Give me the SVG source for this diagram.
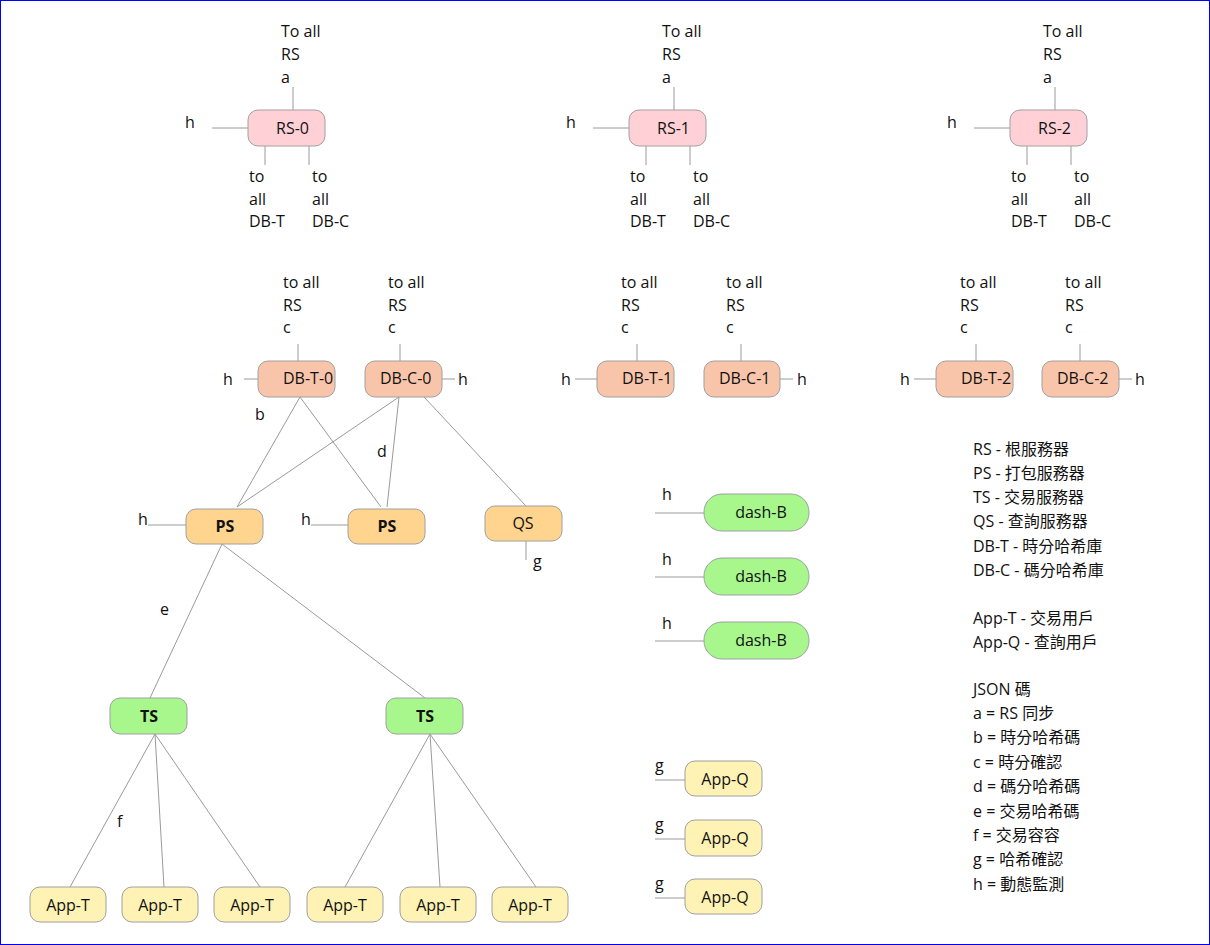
<svg xmlns="http://www.w3.org/2000/svg" width="1210" height="945" viewBox="0 0 1210 945">
<style>
text{font-family:"Open Sans","Noto Sans CJK TC",sans-serif;font-size:16px;fill:#111}
.c{text-anchor:middle}
.b{font-weight:bold}
.ln{stroke:#9a9a9a;stroke-width:1;fill:none}
.rs{fill:#ffd1d6;stroke:#a0a0a0}
.db{fill:#f9c5aa;stroke:#a0a0a0}
.ps{fill:#ffd48f;stroke:#a0a0a0}
.ts{fill:#a8f78d;stroke:#a0a0a0}
.ap{fill:#fff2b5;stroke:#a0a0a0}
</style>
<rect x="0" y="0" width="1210" height="945" fill="#fff"/>
<rect x="0.5" y="0.5" width="1209" height="944" fill="none" stroke="#0000ff"/>
<g id="connectors">
<path class="ln" d="M293 87V110M212 128H248M265 146V165M309 146V165"/>
<path class="ln" d="M674 87V110M593 128H629M646 146V165M690 146V165"/>
<path class="ln" d="M1055 87V110M974 128H1010M1027 146V165M1071 146V165"/>
<path class="ln" d="M298 344V361M244 379H258M400 344V361M442 379H455"/>
<path class="ln" d="M637 344V361M575 379H597M741 344V361M780 379H793"/>
<path class="ln" d="M976 344V361M914 379H936M1080 344V361M1119 379H1132"/>
<path class="ln" d="M300 397L237 507M300 397L381 507M399 397L237 507M399 397L387 507M424 397L526 506"/>
<path class="ln" d="M148 525H186M311 525H348M526 541V560"/>
<path class="ln" d="M222 544L150 698M222 544L425 698"/>
<path class="ln" d="M155 734L70 887M155 734L164 887M155 734L260 887"/>
<path class="ln" d="M430 734L345 887M430 734L440 887M430 734L536 887"/>
<path class="ln" d="M655 513H704M655 577H704M655 641H704"/>
<path class="ln" d="M655 780H685M655 839H685M655 898H685"/>
</g>
<g id="labels">
<text x="281" y="37">To all</text><text x="281" y="60">RS</text><text x="281" y="83">a</text>
<text x="185" y="128">h</text>
<text x="249" y="182">to</text><text x="249" y="205">all</text><text x="249" y="227">DB-T</text>
<text x="312" y="182">to</text><text x="312" y="205">all</text><text x="312" y="227">DB-C</text>
<text x="662" y="37">To all</text><text x="662" y="60">RS</text><text x="662" y="83">a</text>
<text x="566" y="128">h</text>
<text x="630" y="182">to</text><text x="630" y="205">all</text><text x="630" y="227">DB-T</text>
<text x="693" y="182">to</text><text x="693" y="205">all</text><text x="693" y="227">DB-C</text>
<text x="1043" y="37">To all</text><text x="1043" y="60">RS</text><text x="1043" y="83">a</text>
<text x="947" y="128">h</text>
<text x="1011" y="182">to</text><text x="1011" y="205">all</text><text x="1011" y="227">DB-T</text>
<text x="1074" y="182">to</text><text x="1074" y="205">all</text><text x="1074" y="227">DB-C</text>
<text x="283" y="288">to all</text><text x="283" y="311">RS</text><text x="283" y="333">c</text>
<text x="388" y="288">to all</text><text x="388" y="311">RS</text><text x="388" y="333">c</text>
<text x="223" y="385">h</text><text x="458" y="385">h</text>
<text x="621" y="288">to all</text><text x="621" y="311">RS</text><text x="621" y="333">c</text>
<text x="726" y="288">to all</text><text x="726" y="311">RS</text><text x="726" y="333">c</text>
<text x="561" y="385">h</text><text x="797" y="385">h</text>
<text x="960" y="288">to all</text><text x="960" y="311">RS</text><text x="960" y="333">c</text>
<text x="1065" y="288">to all</text><text x="1065" y="311">RS</text><text x="1065" y="333">c</text>
<text x="900" y="385">h</text><text x="1135" y="385">h</text>
<text x="255" y="420">b</text><text x="377" y="457">d</text>
<text x="138" y="525">h</text><text x="301" y="525">h</text><text x="533" y="567">g</text>
<text x="160" y="615">e</text><text x="117" y="827">f</text>
<text x="662" y="500">h</text><text x="662" y="565">h</text><text x="662" y="629">h</text>
<text x="655" y="771">g</text><text x="655" y="830">g</text><text x="655" y="889">g</text>
</g>
<g id="rs0"><rect class="rs" x="248" y="110" width="77" height="36" rx="10"/><text x="276" y="134">RS-0</text></g>
<g id="rs1"><rect class="rs" x="629" y="110" width="77" height="36" rx="10"/><text x="657" y="134">RS-1</text></g>
<g id="rs2"><rect class="rs" x="1010" y="110" width="77" height="36" rx="10"/><text x="1038" y="134">RS-2</text></g>
<g id="dbt0"><rect class="db" x="258" y="361" width="77" height="36" rx="10"/><text x="283" y="384">DB-T-0</text></g>
<g id="dbc0"><rect class="db" x="365" y="361" width="77" height="36" rx="10"/><text x="380" y="384">DB-C-0</text></g>
<g id="dbt1"><rect class="db" x="597" y="361" width="77" height="36" rx="10"/><text x="622" y="384">DB-T-1</text></g>
<g id="dbc1"><rect class="db" x="704" y="361" width="76" height="36" rx="10"/><text x="719" y="384">DB-C-1</text></g>
<g id="dbt2"><rect class="db" x="936" y="361" width="77" height="36" rx="10"/><text x="961" y="384">DB-T-2</text></g>
<g id="dbc2"><rect class="db" x="1042" y="361" width="77" height="36" rx="10"/><text x="1057" y="384">DB-C-2</text></g>
<g id="ps1"><rect class="ps" x="186" y="509" width="77" height="35" rx="10"/><text class="c b" x="225" y="532">PS</text></g>
<g id="ps2"><rect class="ps" x="348" y="509" width="77" height="35" rx="10"/><text class="c b" x="387" y="532">PS</text></g>
<g id="qs"><rect class="ps" x="485" y="506" width="77" height="35" rx="10"/><text class="c" x="523" y="529">QS</text></g>
<g id="ts1"><rect class="ts" x="110" y="698" width="77" height="36" rx="10"/><text class="c b" x="149" y="722">TS</text></g>
<g id="ts2"><rect class="ts" x="386" y="698" width="77" height="36" rx="10"/><text class="c b" x="425" y="722">TS</text></g>
<g id="appt1"><rect class="ap" x="30" y="887" width="76" height="35" rx="10"/><text class="c" x="68" y="911">App-T</text></g>
<g id="appt2"><rect class="ap" x="122" y="887" width="76" height="35" rx="10"/><text class="c" x="160" y="911">App-T</text></g>
<g id="appt3"><rect class="ap" x="214" y="887" width="76" height="35" rx="10"/><text class="c" x="252" y="911">App-T</text></g>
<g id="appt4"><rect class="ap" x="307" y="887" width="76" height="35" rx="10"/><text class="c" x="345" y="911">App-T</text></g>
<g id="appt5"><rect class="ap" x="400" y="887" width="76" height="35" rx="10"/><text class="c" x="438" y="911">App-T</text></g>
<g id="appt6"><rect class="ap" x="492" y="887" width="76" height="35" rx="10"/><text class="c" x="530" y="911">App-T</text></g>
<g id="dash1"><rect class="ts" x="704" y="494" width="105" height="37" rx="18"/><text class="c" x="761" y="518">dash-B</text></g>
<g id="dash2"><rect class="ts" x="704" y="558" width="105" height="37" rx="18"/><text class="c" x="761" y="582">dash-B</text></g>
<g id="dash3"><rect class="ts" x="704" y="622" width="105" height="37" rx="18"/><text class="c" x="761" y="646">dash-B</text></g>
<g id="appq1"><rect class="ap" x="685" y="761" width="77" height="35" rx="10"/><text class="c" x="725" y="785">App-Q</text></g>
<g id="appq2"><rect class="ap" x="685" y="820" width="77" height="36" rx="10"/><text class="c" x="725" y="844">App-Q</text></g>
<g id="appq3"><rect class="ap" x="685" y="879" width="77" height="35" rx="10"/><text class="c" x="725" y="903">App-Q</text></g>
<g id="legend">
<text x="973" y="455">RS - 根服務器</text>
<text x="973" y="479">PS - 打包服務器</text>
<text x="973" y="503">TS - 交易服務器</text>
<text x="973" y="527">QS - 查詢服務器</text>
<text x="973" y="552">DB-T - 時分哈希庫</text>
<text x="973" y="576">DB-C - 碼分哈希庫</text>
<text x="973" y="624">App-T - 交易用戶</text>
<text x="973" y="648">App-Q - 查詢用戶</text>
<text x="973" y="695">JSON 碼</text>
<text x="973" y="719">a = RS 同步</text>
<text x="973" y="743">b = 時分哈希碼</text>
<text x="973" y="768">c = 時分確認</text>
<text x="973" y="792">d = 碼分哈希碼</text>
<text x="973" y="817">e = 交易哈希碼</text>
<text x="973" y="841">f = 交易容容</text>
<text x="973" y="865">g = 哈希確認</text>
<text x="973" y="890">h = 動態監測</text>
</g>
</svg>
